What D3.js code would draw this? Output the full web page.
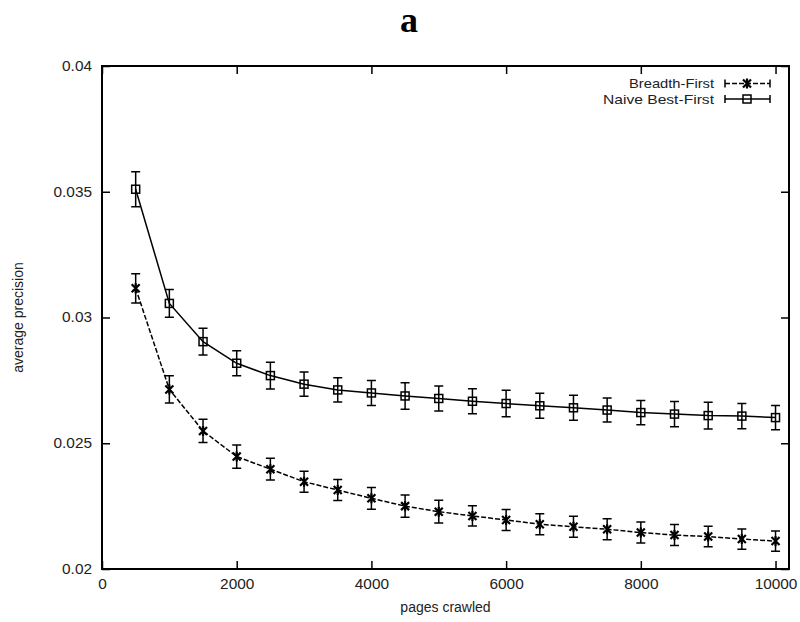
<!DOCTYPE html>
<html>
<head>
<meta charset="utf-8">
<script src="https://cdn.jsdelivr.net/npm/d3@7"></script>
<style>
  body { margin: 0; background: #fff; }
  svg { display: block; }
  .tick text { font-family: "Liberation Sans", Arial, sans-serif; font-size: 14px; fill: #222;
    transform-box: fill-box; transform: scaleX(1.1); }
  .x-axis .tick text { transform-origin: center; }
  .y-axis .tick text { transform-origin: right center; }
  .label { font-family: "Liberation Sans", Arial, sans-serif; font-size: 14px; fill: #222; }
</style>
</head>
<body>
<svg id="chart" width="800" height="622"></svg>
<script>
// pages crawled
const pages = [500, 1000, 1500, 2000, 2500, 3000, 3500, 4000, 4500, 5000,
               5500, 6000, 6500, 7000, 7500, 8000, 8500, 9000, 9500, 10000];

// Breadth-First average precision and error
const breadthFirst = [0.03116, 0.02714, 0.02549, 0.02447, 0.02397, 0.02347, 0.02314, 0.02281, 0.0225, 0.02228,
                      0.02211, 0.02195, 0.02178, 0.02168, 0.02158, 0.02145, 0.02135, 0.02129, 0.02119, 0.02111];
const breadthErr = [0.00058, 0.00054, 0.00046, 0.00046, 0.00043, 0.00042, 0.00042, 0.00043, 0.00044, 0.00045,
                    0.0004, 0.00042, 0.00042, 0.00042, 0.00042, 0.00042, 0.00042, 0.00041, 0.0004, 0.0004];

// Naive Best-First average precision and error
const naiveBest = [0.0351, 0.03056, 0.02904, 0.02818, 0.02769, 0.02735, 0.02712, 0.027, 0.02688, 0.02678,
                   0.02667, 0.02658, 0.02649, 0.02641, 0.02632, 0.02622, 0.02616, 0.0261, 0.02608, 0.02602];
const naiveErr = [0.0007, 0.00055, 0.00053, 0.0005, 0.00053, 0.00048, 0.00048, 0.0005, 0.00053, 0.0005,
                  0.0005, 0.00053, 0.0005, 0.0005, 0.00048, 0.00048, 0.0005, 0.00053, 0.0005, 0.00048];

const xTicks = [0, 2000, 4000, 6000, 8000, 10000];
const yTicks = [0.02, 0.025, 0.03, 0.035, 0.04];
const seriesNames = ['Breadth-First', 'Naive Best-First'];

const svg = d3.select('#chart');
const mLeft = 102, mRight = 789, mTop = 66, mBottom = 569;

const x = d3.scaleLinear().domain([0, 10200]).range([mLeft, mRight]);
const y = d3.scaleLinear().domain([0.02, 0.04]).range([mBottom, mTop]);

// title
svg.append('text')
  .attr('x', 409).attr('y', 32)
  .attr('text-anchor', 'middle')
  .style('font-family', '"Liberation Serif", "DejaVu Serif", serif')
  .style('font-size', '36px')
  .style('font-weight', 'bold')
  .text('a');

// axes with inward ticks
svg.append('g').attr('class', 'x-axis')
  .attr('transform', `translate(0,${mBottom})`)
  .call(d3.axisBottom(x).tickValues(xTicks).tickSize(-8).tickPadding(10).tickFormat(d3.format('d')))
  .call(g => g.select('.domain').remove());
svg.append('g')
  .attr('transform', `translate(0,${mTop})`)
  .call(d3.axisTop(x).tickValues(xTicks).tickSize(-8).tickFormat(''))
  .call(g => g.select('.domain').remove());
svg.append('g').attr('class', 'y-axis')
  .attr('transform', `translate(${mLeft},0)`)
  .call(d3.axisLeft(y).tickValues(yTicks).tickSize(-8).tickPadding(10).tickFormat(d => String(+d.toFixed(3))))
  .call(g => g.select('.domain').remove());
svg.append('g')
  .attr('transform', `translate(${mRight},0)`)
  .call(d3.axisRight(y).tickValues(yTicks).tickSize(-8).tickFormat(''))
  .call(g => g.select('.domain').remove());
svg.selectAll('.tick line').attr('stroke', '#000').attr('stroke-width', 1.5);

// frame
svg.append('rect')
  .attr('x', mLeft).attr('y', mTop)
  .attr('width', mRight - mLeft).attr('height', mBottom - mTop)
  .attr('fill', 'none').attr('stroke', '#000').attr('stroke-width', 2);

// axis labels
svg.append('text').attr('class', 'label')
  .attr('x', (mLeft + mRight) / 2).attr('y', 612)
  .attr('text-anchor', 'middle')
  .text('pages crawled');
svg.append('text').attr('class', 'label')
  .attr('transform', `translate(23,${(mTop + mBottom) / 2}) rotate(-90)`)
  .attr('text-anchor', 'middle')
  .text('average precision');

const series = [
  { name: seriesNames[0], values: breadthFirst, err: breadthErr, dash: '5,2', marker: 'star' },
  { name: seriesNames[1], values: naiveBest, err: naiveErr, dash: null, marker: 'square' }
];

const line = d3.line().x(d => x(d[0])).y(d => y(d[1]));
const cap = 4.5;

function drawMarker(g, type, cx, cy) {
  if (type === 'square') {
    g.append('rect')
      .attr('x', cx - 4).attr('y', cy - 4)
      .attr('width', 8).attr('height', 8)
      .attr('fill', 'none').attr('stroke', '#000').attr('stroke-width', 1.5);
  } else {
    const s = 4;
    g.append('path')
      .attr('d', `M${cx - s},${cy - s}L${cx + s},${cy + s}M${cx - s},${cy + s}L${cx + s},${cy - s}M${cx},${cy - s - 1}L${cx},${cy + s + 1}`)
      .attr('stroke', '#000').attr('stroke-width', 2.2);
  }
}

series.forEach(s => {
  const pts = pages.map((p, i) => [p, s.values[i], s.err[i]]);
  const g = svg.append('g');
  g.append('path')
    .datum(pts)
    .attr('d', line)
    .attr('fill', 'none')
    .attr('stroke', '#000')
    .attr('stroke-width', 1.5)
    .attr('stroke-dasharray', s.dash);
  pts.forEach(([p, v, e]) => {
    const cx = x(p), y0 = y(v + e), y1 = y(v - e);
    g.append('path')
      .attr('d', `M${cx},${y0}V${y1}M${cx - cap},${y0}H${cx + cap}M${cx - cap},${y1}H${cx + cap}`)
      .attr('fill', 'none').attr('stroke', '#000').attr('stroke-width', 1.5);
    drawMarker(g, s.marker, cx, y(v));
  });
});

// legend
const legend = svg.append('g');
const legendWidths = [85, 111];
series.forEach((s, i) => {
  const ly = 83.5 + i * 15.5;
  legend.append('text').attr('class', 'label')
    .attr('x', 714).attr('y', ly + 4.5)
    .attr('text-anchor', 'end')
    .style('font-size', '13px')
    .attr('textLength', legendWidths[i])
    .attr('lengthAdjust', 'spacingAndGlyphs')
    .text(s.name);
  const x0 = 725, x1 = 770;
  legend.append('path')
    .attr('d', `M${x0},${ly}H${x1}`)
    .attr('stroke', '#000').attr('stroke-width', 1.5)
    .attr('stroke-dasharray', s.dash);
  legend.append('path')
    .attr('d', `M${x0},${ly - 4}V${ly + 4}M${x1},${ly - 4}V${ly + 4}`)
    .attr('stroke', '#000').attr('stroke-width', 1.5);
  drawMarker(legend, s.marker, 747, ly);
});
</script>
</body>
</html>
